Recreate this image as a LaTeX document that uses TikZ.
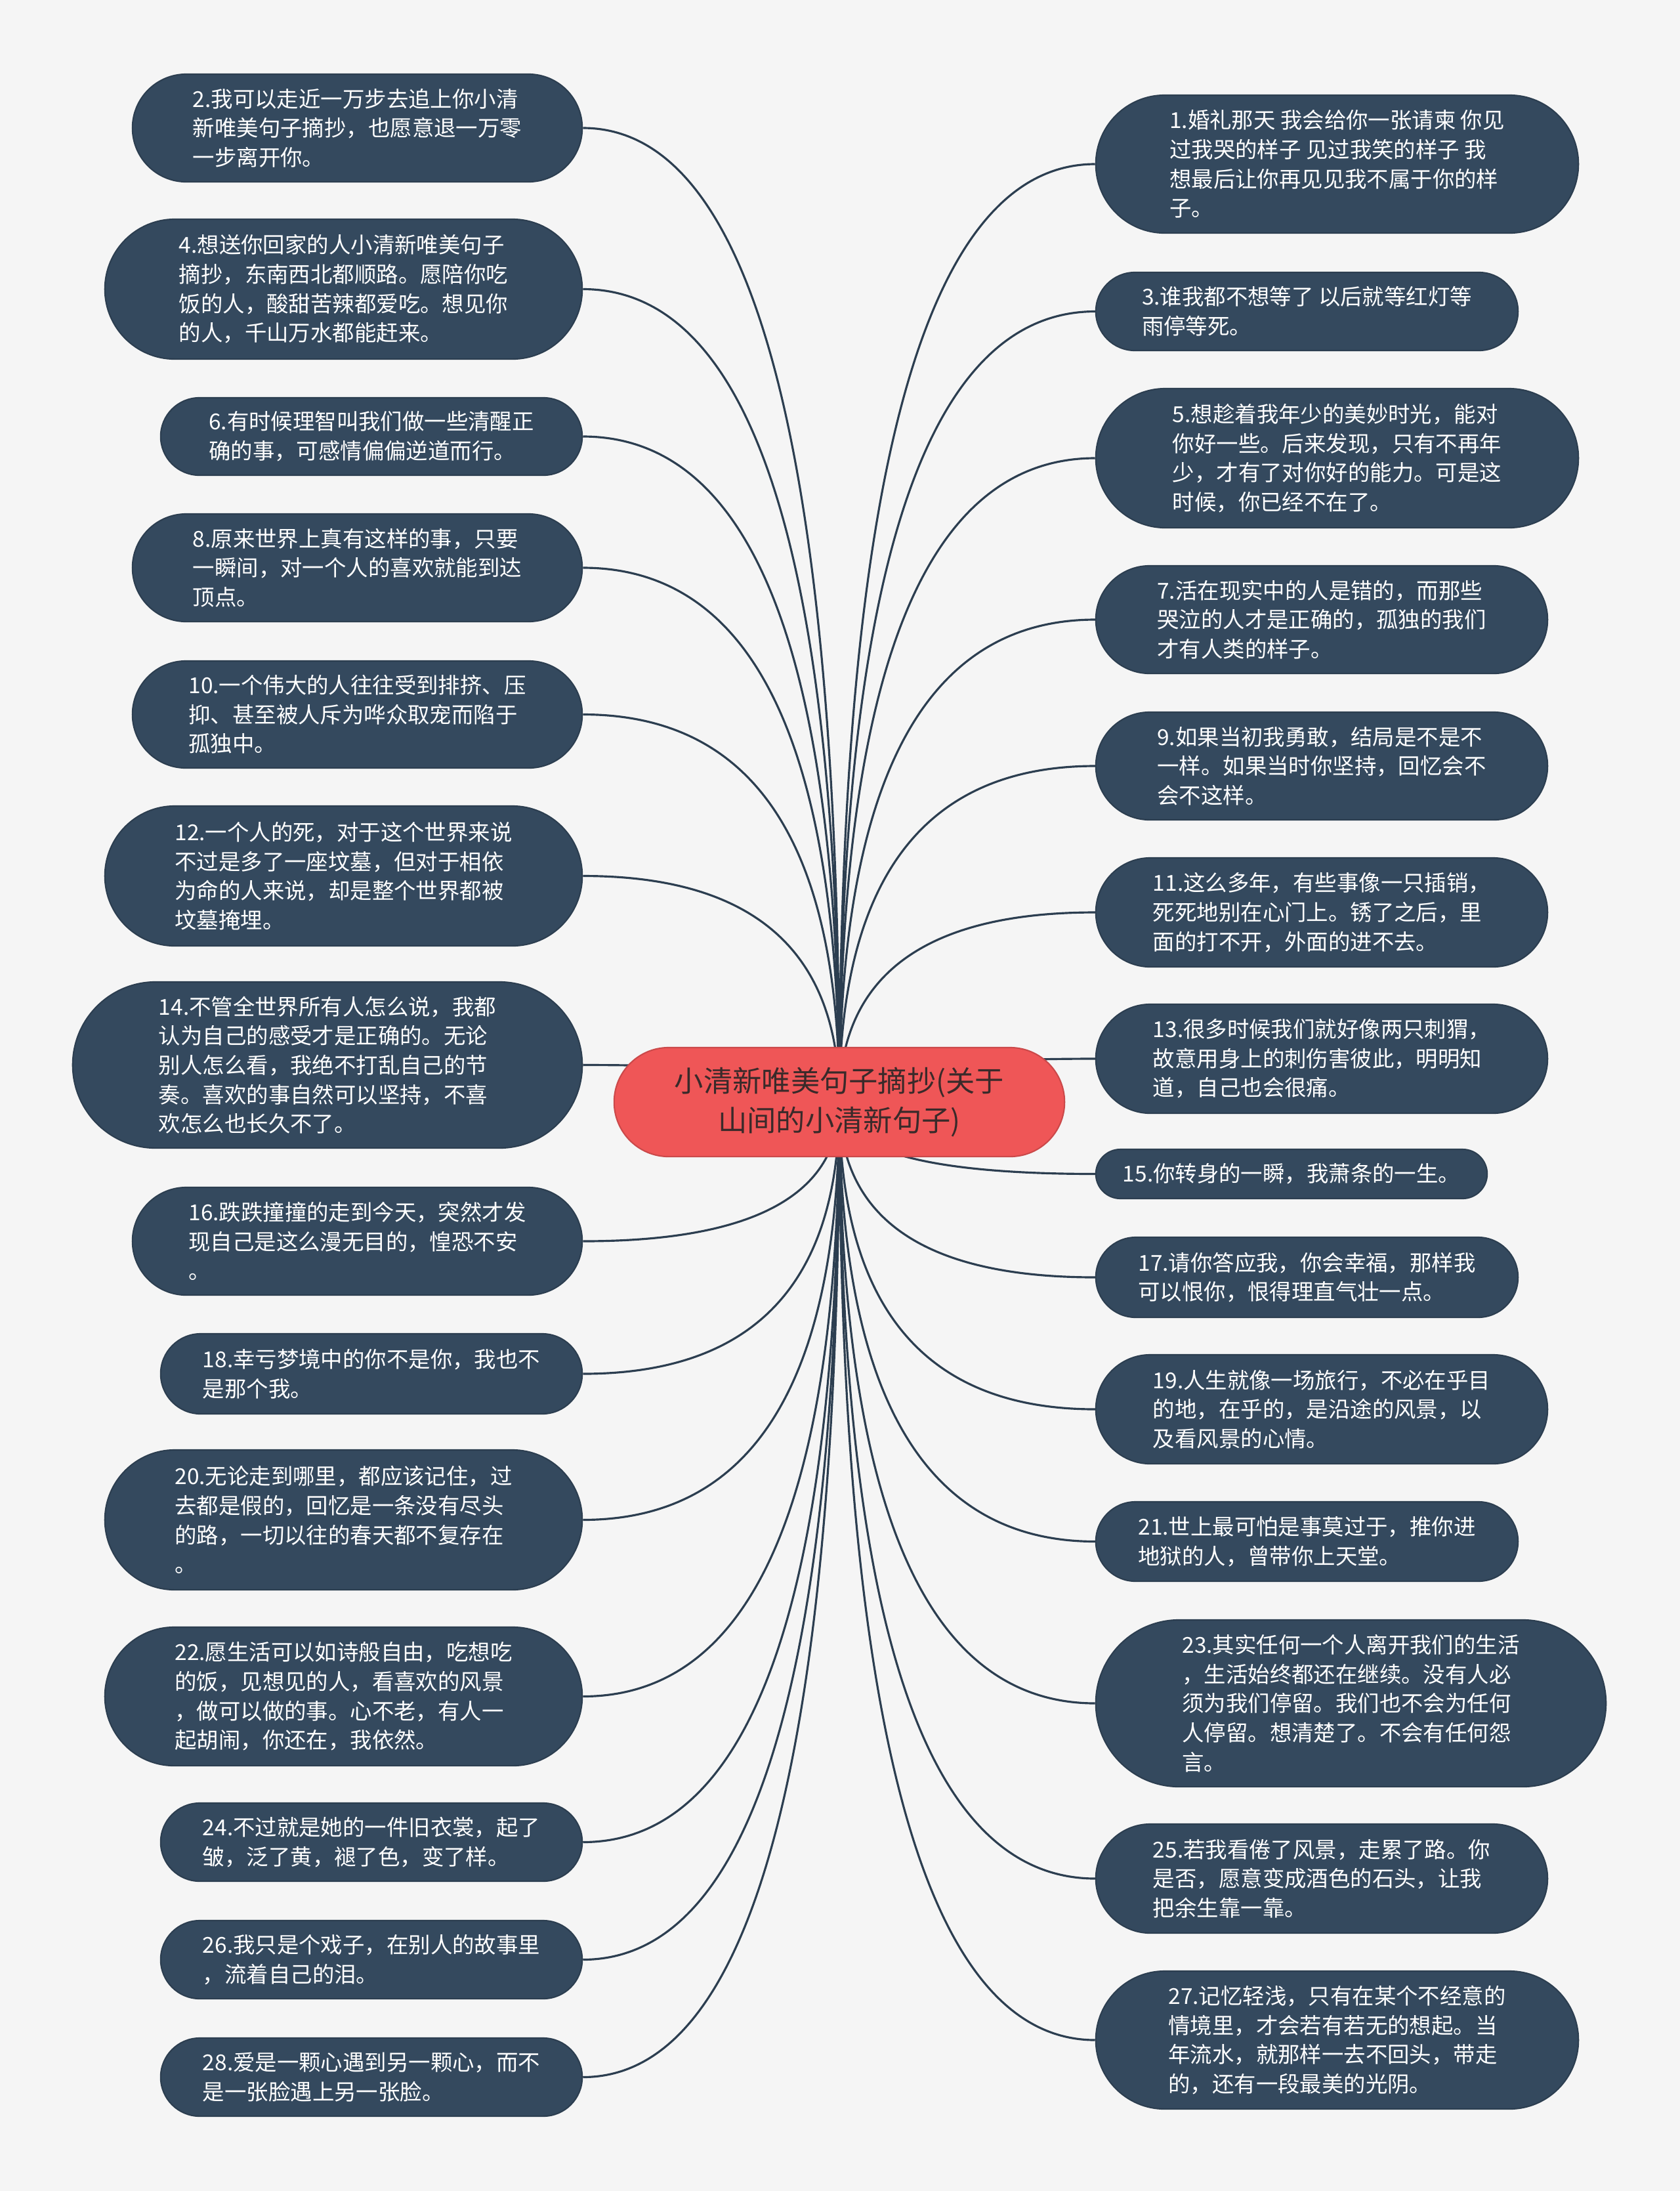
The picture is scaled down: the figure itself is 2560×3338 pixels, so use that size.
\documentclass[tikz,border=0pt]{standalone}
\usepackage{fontspec}
\setmainfont{Noto Sans CJK SC}
\usetikzlibrary{calc}
\definecolor{bgc}{HTML}{F5F5F5}
\definecolor{leaffill}{HTML}{34495E}
\definecolor{leafedge}{HTML}{2C3E50}
\definecolor{linec}{HTML}{2C3E50}
\definecolor{rootfill}{HTML}{EF5657}
\definecolor{roottext}{HTML}{3A2A2A}
\pgfdeclarelayer{back}
\pgfsetlayers{back,main}
\tikzset{
  leaf/.style={draw=leafedge, line width=0.6pt, fill=leaffill, text=white, inner sep=0pt,
    align=left, font=\fontsize{9.5}{12.7}\selectfont},
  rootbox/.style={draw=rootfill!85!black, line width=0.6pt, fill=rootfill, text=roottext, inner sep=0pt,
    align=center, font=\fontsize{12.6}{17}\selectfont},
  conn/.style={draw=linec, line width=0.9pt}
}
\newcommand\leaf[6]{%
  \pgfmathsetmacro\lw{(#4-#2)*0.284528}%
  \pgfmathsetmacro\lh{(#5-#3)*0.284528}%
  \pgfmathsetmacro\lr{(#5-#3)*0.142264}%
  \node[leaf, minimum width=\lw pt, minimum height=\lh pt, rounded corners=\lr pt] (#1) at ({(#2+#4)/2},{(#3+#5)/2}) {#6};}
\newcommand\conn[2]{%
  \draw[conn] (root.center) .. controls ($(root.center)!2/3!(root.center |- #1.#2)$) and ($(#1.#2)!2/3!(root.center |- #1.#2)$) .. (#1.#2);}
\begin{document}
\begin{tikzpicture}[x=0.01cm, y=-0.01cm]
\begin{pgfonlayer}{back}
  \fill[bgc] (0,0) rectangle (2560,3338);
\end{pgfonlayer}
\useasboundingbox (0,0) rectangle (2560,3338);

% root
\node[rootbox, minimum width={686*0.284528pt}, minimum height={166*0.284528pt}, rounded corners={83*0.284528pt}] (root) at (1279,1679) {小清新唯美句子摘抄(关于\\山间的小清新句子)};

% left column
\leaf{n2}{202}{113}{887}{277}{2.我可以走近一万步去追上你小清\\新唯美句子摘抄，也愿意退一万零\\一步离开你。}
\leaf{n4}{160}{334}{887}{547}{4.想送你回家的人小清新唯美句子\\摘抄，东南西北都顺路。愿陪你吃\\饭的人，酸甜苦辣都爱吃。想见你\\的人，千山万水都能赶来。}
\leaf{n6}{245}{606}{887}{724}{6.有时候理智叫我们做一些清醒正\\确的事，可感情偏偏逆道而行。}
\leaf{n8}{202}{783}{887}{947}{8.原来世界上真有这样的事，只要\\一瞬间，对一个人的喜欢就能到达\\顶点。}
\leaf{n10}{202}{1007}{887}{1170}{10.一个伟大的人往往受到排挤、压\\抑、甚至被人斥为哗众取宠而陷于\\孤独中。}
\leaf{n12}{160}{1228}{887}{1441}{12.一个人的死，对于这个世界来说\\不过是多了一座坟墓，但对于相依\\为命的人来说，却是整个世界都被\\坟墓掩埋。}
\leaf{n14}{111}{1496}{887}{1749}{14.不管全世界所有人怎么说，我都\\认为自己的感受才是正确的。无论\\别人怎么看，我绝不打乱自己的节\\奏。喜欢的事自然可以坚持，不喜\\欢怎么也长久不了。}
\leaf{n16}{202}{1809}{887}{1973}{16.跌跌撞撞的走到今天，突然才发\\现自己是这么漫无目的，惶恐不安\\。}
\leaf{n18}{245}{2032}{887}{2154}{18.幸亏梦境中的你不是你，我也不\\是那个我。}
\leaf{n20}{160}{2209}{887}{2422}{20.无论走到哪里，都应该记住，过\\去都是假的，回忆是一条没有尽头\\的路，一切以往的春天都不复存在\\。}
\leaf{n22}{160}{2479}{887}{2690}{22.愿生活可以如诗般自由，吃想吃\\的饭，见想见的人，看喜欢的风景\\，做可以做的事。心不老，有人一\\起胡闹，你还在，我依然。}
\leaf{n24}{245}{2747}{887}{2866}{24.不过就是她的一件旧衣裳，起了\\皱，泛了黄，褪了色，变了样。}
\leaf{n26}{245}{2926}{887}{3045}{26.我只是个戏子，在别人的故事里\\，流着自己的泪。}
\leaf{n28}{245}{3105}{887}{3224}{28.爱是一颗心遇到另一颗心，而不\\是一张脸遇上另一张脸。}

% right column
\leaf{n1}{1670}{145}{2405}{355}{1.婚礼那天 我会给你一张请柬 你见\\过我哭的样子 见过我笑的样子 我\\想最后让你再见见我不属于你的样\\子。}
\leaf{n3}{1670}{415}{2313}{534}{3.谁我都不想等了 以后就等红灯等\\雨停等死。}
\leaf{n5}{1670}{592}{2405}{804}{5.想趁着我年少的美妙时光，能对\\你好一些。后来发现，只有不再年\\少，才有了对你好的能力。可是这\\时候，你已经不在了。}
\leaf{n7}{1670}{862}{2358}{1026}{7.活在现实中的人是错的，而那些\\哭泣的人才是正确的，孤独的我们\\才有人类的样子。}
\leaf{n9}{1670}{1085}{2358}{1249}{9.如果当初我勇敢，结局是不是不\\一样。如果当时你坚持，回忆会不\\会不这样。}
\leaf{n11}{1670}{1307}{2358}{1473}{11.这么多年，有些事像一只插销，\\死死地别在心门上。锈了之后，里\\面的打不开，外面的进不去。}
\leaf{n13}{1670}{1530}{2358}{1696}{13.很多时候我们就好像两只刺猬，\\故意用身上的刺伤害彼此，明明知\\道，自己也会很痛。}
\leaf{n15}{1670}{1751}{2266}{1826}{15.你转身的一瞬，我萧条的一生。}
\leaf{n17}{1670}{1885}{2313}{2007}{17.请你答应我，你会幸福，那样我\\可以恨你，恨得理直气壮一点。}
\leaf{n19}{1670}{2064}{2358}{2230}{19.人生就像一场旅行，不必在乎目\\的地，在乎的，是沿途的风景，以\\及看风景的心情。}
\leaf{n21}{1670}{2288}{2313}{2409}{21.世上最可怕是事莫过于，推你进\\地狱的人，曾带你上天堂。}
\leaf{n23}{1670}{2468}{2447}{2722}{23.其实任何一个人离开我们的生活\\，生活始终都还在继续。没有人必\\须为我们停留。我们也不会为任何\\人停留。想清楚了。不会有任何怨\\言。}
\leaf{n25}{1670}{2779}{2358}{2945}{25.若我看倦了风景，走累了路。你\\是否，愿意变成酒色的石头，让我\\把余生靠一靠。}
\leaf{n27}{1670}{3003}{2405}{3213}{27.记忆轻浅，只有在某个不经意的\\情境里，才会若有若无的想起。当\\年流水，就那样一去不回头，带走\\的，还有一段最美的光阴。}

% connectors
\begin{pgfonlayer}{back}
  \foreach \n in {n2,n4,n6,n8,n10,n12,n14,n16,n18,n20,n22,n24,n26,n28} {\conn{\n}{east}}
  \foreach \n in {n1,n3,n5,n7,n9,n11,n13,n15,n17,n19,n21,n23,n25,n27} {\conn{\n}{west}}
\end{pgfonlayer}
\end{tikzpicture}
\end{document}
